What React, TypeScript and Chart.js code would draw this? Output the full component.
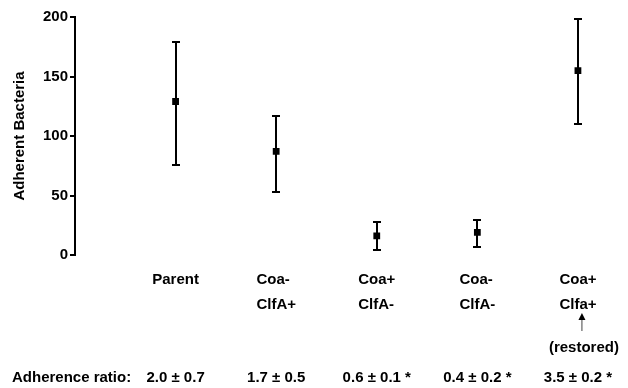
import { useEffect, useRef } from "react";
import { Chart, registerables } from "chart.js";

Chart.register(...registerables);

// ---- data ----
const categoryLines: string[][] = [
  ["Parent"],
  ["Coa-", "ClfA+"],
  ["Coa+", "ClfA-"],
  ["Coa-", "ClfA-"],
  ["Coa+", "Clfa+"],
];
const means = [129, 87, 16, 19, 155];
const upper = [179, 117, 28, 29, 198];
const lower = [76, 53, 4, 7, 110];
const ratioLabel = "Adherence ratio:";
const ratios = ["2.0 ± 0.7", "1.7 ± 0.5", "0.6 ± 0.1 *", "0.4 ± 0.2 *", "3.5 ± 0.2 *"];
const restoredIndex = 4;
const restoredNote = "(restored)";
const yTitle = "Adherent Bacteria";
const yMin = 0;
const yMax = 200;
const yStep = 50;

const FONT_FAMILY = "'Liberation Sans', Arial, Helvetica, sans-serif";
const FONT = `bold 15px ${FONT_FAMILY}`;

const annotationPlugin = {
  id: "annotations",
  beforeDatasetsDraw(chart: any) {
    const { ctx, scales } = chart;
    const x = scales.x;
    const y = scales.y;
    ctx.save();
    ctx.strokeStyle = "#000";
    ctx.lineWidth = 2;
    means.forEach((_m, i) => {
      const px = Math.round(x.getPixelForValue(i));
      const yt = Math.round(y.getPixelForValue(upper[i]));
      const yb = Math.round(y.getPixelForValue(lower[i]));
      ctx.beginPath();
      ctx.moveTo(px, yt);
      ctx.lineTo(px, yb);
      ctx.moveTo(px - 4, yt);
      ctx.lineTo(px + 4, yt);
      ctx.moveTo(px - 4, yb);
      ctx.lineTo(px + 4, yb);
      ctx.stroke();
    });
    ctx.restore();
  },
  afterDraw(chart: any) {
    const { ctx, scales, chartArea } = chart;
    const x = scales.x;
    const base = chartArea.bottom;
    ctx.save();
    ctx.fillStyle = "#000";
    ctx.font = FONT;
    ctx.textBaseline = "middle";
    categoryLines.forEach((lines, i) => {
      const px = x.getPixelForValue(i);
      const maxW = Math.max(...lines.map((l) => ctx.measureText(l).width));
      const left = px - maxW / 2;
      ctx.textAlign = "left";
      lines.forEach((l, j) => {
        ctx.fillText(l, left, base + 25 + j * 25);
      });
      if (i === restoredIndex) {
        const ax = px + 4;
        ctx.strokeStyle = "#444";
        ctx.lineWidth = 1;
        ctx.beginPath();
        ctx.moveTo(ax, base + 64);
        ctx.lineTo(ax, base + 76);
        ctx.stroke();
        ctx.beginPath();
        ctx.moveTo(ax, base + 58);
        ctx.lineTo(ax - 3.5, base + 65);
        ctx.lineTo(ax + 3.5, base + 65);
        ctx.closePath();
        ctx.fill();
        ctx.textAlign = "center";
        ctx.fillText(restoredNote, px + 6, base + 93);
      }
    });
    ctx.textAlign = "left";
    ctx.fillText(ratioLabel, 12, base + 123);
    ctx.textAlign = "center";
    ratios.forEach((r, i) => {
      const px = x.getPixelForValue(i);
      ctx.fillText(r, px, base + 123);
    });
    ctx.restore();
  },
};

export default function App() {
  const ref = useRef<HTMLCanvasElement>(null);
  useEffect(() => {
    if (!ref.current) return;
    const chart = new Chart(ref.current, {
      type: "scatter",
      data: {
        datasets: [
          {
            data: means.map((m, i) => ({ x: i, y: m })),
            pointStyle: "rect",
            pointRadius: 4.8,
            backgroundColor: "#000",
            borderColor: "#000",
            borderWidth: 0,
          },
        ],
      },
      options: {
        animation: false,
        responsive: true,
        maintainAspectRatio: false,
        layout: { padding: { top: 17, bottom: 133, left: 0, right: 1 } },
        plugins: { legend: { display: false }, tooltip: { enabled: false } },
        scales: {
          x: { type: "linear", min: -1, max: 4.45, display: false },
          y: {
            min: yMin,
            max: yMax,
            afterFit: (scale: any) => {
              scale.width = 75;
            },
            ticks: {
              stepSize: yStep,
              color: "#000",
              padding: 2,
              font: { family: FONT_FAMILY, size: 15, weight: "bold" },
            },
            grid: {
              display: true,
              drawOnChartArea: false,
              drawTicks: true,
              tickLength: 5,
              lineWidth: 2,
              color: "#000",
            },
            border: { display: true, color: "#000", width: 2 },
            title: {
              display: true,
              text: yTitle,
              color: "#000",
              padding: { top: 11, bottom: 0 },
              font: { family: FONT_FAMILY, size: 15, weight: "bold" },
            },
          },
        },
      },
      plugins: [annotationPlugin],
    });
    return () => chart.destroy();
  }, []);
  return (
    <div style={{ position: "fixed", left: 0, top: 0, width: 628, height: 388, background: "#fff" }}>
      <canvas ref={ref} />
    </div>
  );
}
